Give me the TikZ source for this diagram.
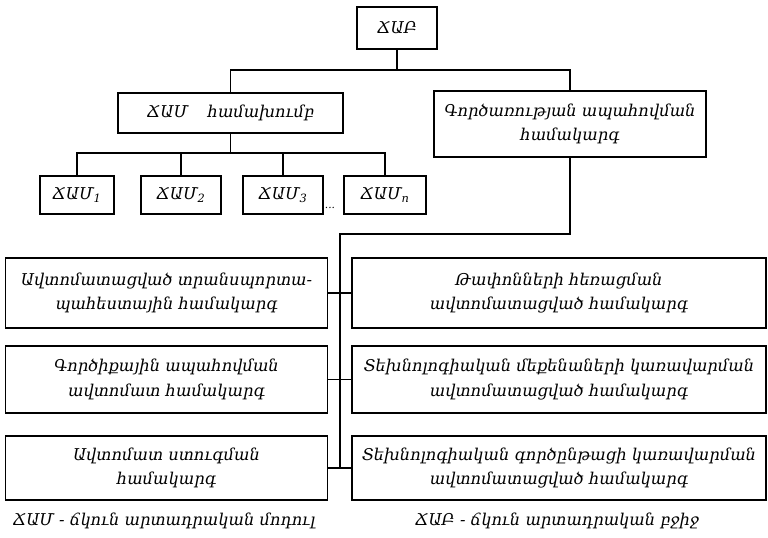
\documentclass[tikz,border=0pt]{standalone}
\usepackage{fontspec}
\setmainfont{DejaVu Serif}
\begin{document}
\begin{tikzpicture}[x=0.75pt,y=-0.75pt,
  every node/.style={font=\itshape\fontsize{12.2}{18.5}\selectfont},
  box/.style={draw, line width=1.1pt, inner sep=0pt, align=center},
  conn/.style={line width=1.1pt}]
\useasboundingbox (0,0) rectangle (768,537);
\node[box, minimum width=60pt, minimum height=31.5pt] (cab) at (397,28) {ՃԱԲ};
\node[box, minimum width=168.75pt, minimum height=30pt] (cam) at (230.5,113) {ՃԱՄ\hspace{1.2em}համախումբ};
\node[box, minimum width=204pt, minimum height=49.5pt] (gorts) at (570,124) {Գործառության ապահովման\\համակարգ};
\node[box, minimum width=55.5pt, minimum height=28.5pt] (m1) at (77,195) {ՃԱՄ\textsubscript{1}};
\node[box, minimum width=60pt, minimum height=28.5pt] (m2) at (181,195) {ՃԱՄ\textsubscript{2}};
\node[box, minimum width=60pt, minimum height=28.5pt] (m3) at (283,195) {ՃԱՄ\textsubscript{3}};
\node[box, minimum width=61.5pt, minimum height=28.5pt] (m4) at (385,195) {ՃԱՄ\textsubscript{n}};
\node[inner sep=0pt, font=\itshape\fontsize{8}{9}\selectfont] (dots) at (330,208) {...};
\node[box, minimum width=241.5pt, minimum height=52.5pt] (L1) at (166.5,293) {Ավտոմատացված տրանսպորտա-\\պահեստային համակարգ};
\node[box, minimum width=241.5pt, minimum height=50.25pt] (L2) at (166.5,379.5) {Գործիքային ապահովման\\ավտոմատ համակարգ};
\node[box, minimum width=241.5pt, minimum height=48pt] (L3) at (166.5,468) {Ավտոմատ ստուգման\\համակարգ};
\node[box, minimum width=310.5pt, minimum height=52.5pt] (R1) at (559,293) {Թափոնների հեռացման\\ավտոմատացված համակարգ};
\node[box, minimum width=310.5pt, minimum height=50.25pt] (R2) at (559,379.5) {Տեխնոլոգիական մեքենաների կառավարման\\ավտոմատացված համակարգ};
\node[box, minimum width=310.5pt, minimum height=48pt] (R3) at (559,468) {Տեխնոլոգիական գործընթացի կառավարման\\ավտոմատացված համակարգ};
\node (capL) at (164,521) {ՃԱՄ - ճկուն արտադրական մոդուլ};
\node (capR) at (557,521) {ՃԱԲ - ճկուն արտադրական բջիջ};
\coordinate (j1) at (397,70);
\coordinate (j2) at (230.5,153);
\coordinate (j3) at (340,234);
\coordinate (j4) at (340,468);
\draw[conn] (cab.south) -- (j1);
\draw[conn] (cam.north) |- (j1) -| (gorts.north);
\draw[conn] (cam.south) -- (j2);
\draw[conn] (m1.north) |- (j2) -| (m4.north);
\draw[conn] (m2.north) -- (m2.north |- j2);
\draw[conn] (m3.north) -- (m3.north |- j2);
\draw[conn] (gorts.south) |- (j3) -- (j4);
\draw[conn] (L1.east) -- (R1.west);
\draw[conn] (L2.east) -- (R2.west);
\draw[conn] (L3.east) -- (R3.west);
\end{tikzpicture}
\end{document}
